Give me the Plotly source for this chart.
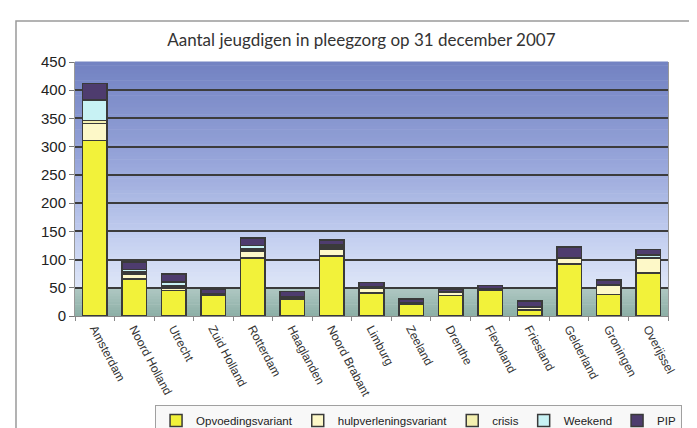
import plotly.graph_objects as go

categories = ["Amsterdam", "Noord Holland", "Utrecht", "Zuid Holland", "Rotterdam",
              "Haaglanden", "Noord Brabant", "Limburg", "Zeeland", "Drenthe",
              "Flevoland", "Friesland", "Gelderland", "Groningen", "Overijssel"]

opvoeding = [311, 66, 45, 37, 103, 30, 106, 41, 20, 36, 46, 11, 92, 38, 76]
hulpverlening = [30, 8, 5, 2, 12, 2, 13, 9, 2, 6, 2, 4, 10, 16, 26]
crisis = [5, 4, 3, 1, 4, 1, 3, 2, 1, 1, 0, 2, 2, 2, 2]
weekend = [37, 4, 7, 0, 6, 1, 4, 0, 0, 0, 0, 0, 0, 0, 4]
pip = [29, 14, 14, 8, 13, 9, 9, 7, 7, 5, 6, 10, 18, 8, 10]

y_ticks = [0, 50, 100, 150, 200, 250, 300, 350, 400, 450]

series = [
    ("Opvoedingsvariant", opvoeding, "#f2f23a"),
    ("hulpverleningsvariant", hulpverlening, "#fdf8c8"),
    ("crisis", crisis, "#f4f0b0"),
    ("Weekend", weekend, "#c8f2f4"),
    ("PIP", pip, "#4e3c6e"),
]

fig = go.Figure()
for name, vals, col in series:
    fig.add_trace(go.Bar(
        x=categories, y=vals, name=name,
        marker=dict(color=col, line=dict(color="#3a3a3a", width=1.5)),
    ))

# background gradient (plot area decoration)
def lerp(c1, c2, t):
    a = [int(c1[i:i + 2], 16) for i in (1, 3, 5)]
    b = [int(c2[i:i + 2], 16) for i in (1, 3, 5)]
    return "#%02x%02x%02x" % tuple(round(a[k] + (b[k] - a[k]) * t) for k in range(3))

shapes = []
stops = [(1.0, "#7282c2"), (0.6, "#98a6da"), (0.3, "#c4d0f0"), (50 / 450, "#dee6f8")]
n = 60
lo = 50 / 450
for i in range(n):
    f0 = lo + (1 - lo) * i / n
    f1 = lo + (1 - lo) * (i + 1) / n
    fm = (f0 + f1) / 2
    col = stops[-1][1]
    for j in range(len(stops) - 1):
        hi_f, hi_c = stops[j]
        lo_f, lo_c = stops[j + 1]
        if lo_f <= fm <= hi_f:
            col = lerp(lo_c, hi_c, (fm - lo_f) / (hi_f - lo_f))
            break
    shapes.append(dict(type="rect", xref="x domain", yref="y domain", x0=0, x1=1,
                       y0=f0, y1=f1 + 0.002, fillcolor=col, line=dict(width=0), layer="below"))
m = 10
for i in range(m):
    f0 = lo * i / m
    f1 = lo * (i + 1) / m
    col = lerp("#8cafa5", "#b0c8c4", (i + 0.5) / m)
    shapes.append(dict(type="rect", xref="x domain", yref="y domain", x0=0, x1=1,
                       y0=f0, y1=f1 + 0.002, fillcolor=col, line=dict(width=0), layer="below"))
# outer chart frame
shapes.append(dict(type="rect", xref="paper", yref="paper", x0=-0.0995, x1=1.2,
                   y0=-0.6, y1=1.161, line=dict(color="#9a9a9a", width=1.5),
                   fillcolor="rgba(0,0,0,0)", layer="below"))

fig.update_layout(
    barmode="stack",
    bargap=0.38,
    width=697, height=428,
    margin=dict(l=67, r=37, t=54, b=120, autoexpand=False),
    paper_bgcolor="white",
    plot_bgcolor="rgba(0,0,0,0)",
    shapes=shapes,
    title=dict(text="Aantal jeugdigen in pleegzorg op 31 december 2007",
               font=dict(family="Lato", size=17, color="#333333"),
               x=0.507, xanchor="center", xref="container",
               y=0.925, yanchor="middle", yref="container"),
    font=dict(family="Liberation Sans", color="#222222"),
    legend=dict(orientation="h", x=0.135, xanchor="left", y=-0.35, yanchor="top",
                font=dict(family="Liberation Sans", size=11.5, color="#222222"),
                bordercolor="#a0a0a0", borderwidth=1, bgcolor="#f8f8f8",
                itemwidth=30, traceorder="normal", itemclick=False),
    xaxis=dict(tickangle=62, tickfont=dict(size=12, color="#333333"), automargin=False,
               tickson="boundaries", ticks="outside", ticklen=4, tickcolor="#888888",
               showline=True, linecolor="#888888", showgrid=False),
    yaxis=dict(range=[0, 450], tickvals=y_ticks, ticks="outside", ticklen=5, automargin=False,
               tickcolor="#777777", tickfont=dict(size=15, color="#222222"),
               showgrid=True, gridcolor="#3c3c3c", gridwidth=2,
               showline=True, linecolor="#999999", mirror=True, zeroline=False),
)

fig.write_html("out.html")
